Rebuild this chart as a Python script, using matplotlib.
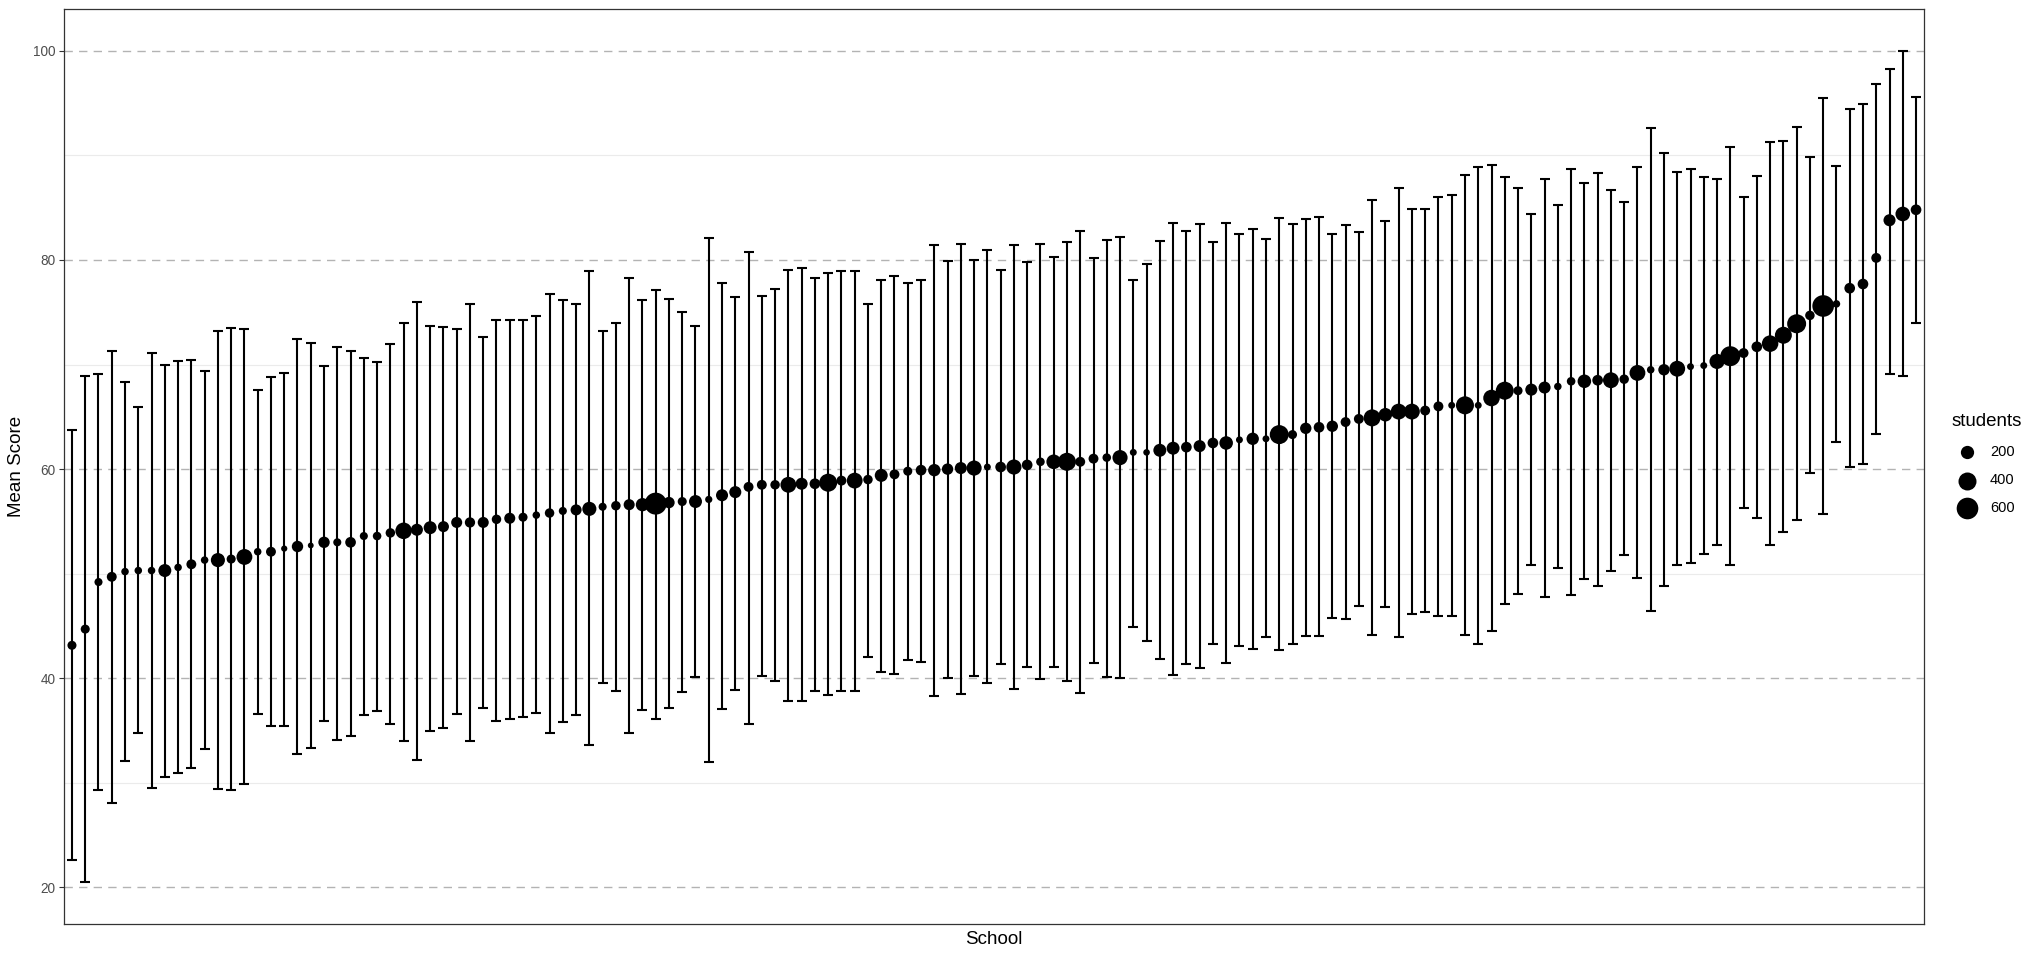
import numpy as np
import matplotlib
matplotlib.use("Agg")
import matplotlib.pyplot as plt
from matplotlib.lines import Line2D

plt.rcParams['font.family'] = ['Liberation Sans', 'DejaVu Sans']

mean_score = [
    43.15, 44.7, 49.2, 49.7, 50.2, 50.3, 50.3, 50.3, 50.6, 50.9, 51.3, 51.3, 51.4, 51.6, 52.1, 52.1, 52.4, 52.6, 52.7, 53.0, 53.0, 53.0, 53.6, 53.6,
    53.9, 54.1, 54.2, 54.4, 54.5, 54.9, 54.9, 54.9, 55.2, 55.3, 55.4, 55.6, 55.8, 56.0, 56.1, 56.2, 56.4, 56.5, 56.6, 56.6, 56.7, 56.8, 56.9,
    56.9, 57.1, 57.5, 57.8, 58.3, 58.5, 58.5, 58.5, 58.6, 58.6, 58.7, 58.9, 58.9, 59.0, 59.4, 59.5, 59.8, 59.9, 59.9, 60.0, 60.1, 60.1, 60.2, 60.2,
    60.2, 60.4, 60.7, 60.7, 60.7, 60.7, 61.0, 61.1, 61.1, 61.6, 61.6, 61.8, 62.0, 62.1, 62.2, 62.5, 62.5, 62.8, 62.9, 62.9, 63.3, 63.3, 63.9,
    64.0, 64.1, 64.5, 64.8, 64.9, 65.2, 65.5, 65.5, 65.6, 66.0, 66.1, 66.1, 66.1, 66.8, 67.5, 67.5, 67.6, 67.8, 67.9, 68.4, 68.4, 68.5, 68.5,
    68.6, 69.2, 69.5, 69.5, 69.6, 69.8, 69.9, 70.3, 70.8, 71.1, 71.7, 72.0, 72.8, 73.9, 74.7, 75.6, 75.8, 77.3, 77.7, 80.2, 83.8, 84.4, 84.8,
]

upper_ci = [
    63.7, 68.9, 69.1, 71.3, 68.3, 65.9, 71.1, 70.0, 70.3, 70.4, 69.4, 73.2, 73.5, 73.4, 67.6, 68.8, 69.2, 72.4, 72.1, 69.9, 71.7, 71.3, 70.6, 70.2,
    72.0, 74.0, 76.0, 73.7, 73.6, 73.4, 75.8, 72.6, 74.3, 74.3, 74.3, 74.6, 76.7, 76.2, 75.8, 78.9, 73.2, 74.0, 78.3, 76.2, 77.1, 76.3, 75.0,
    73.7, 82.1, 77.8, 76.5, 80.8, 76.6, 77.2, 79.0, 79.2, 78.3, 78.8, 78.9, 78.9, 75.8, 78.1, 78.5, 77.8, 78.1, 81.4, 79.9, 81.5, 80.0, 81.0, 79.0,
    81.4, 79.8, 81.5, 80.3, 81.7, 82.8, 80.2, 81.9, 82.2, 78.1, 79.6, 81.8, 83.5, 82.8, 83.4, 81.7, 83.5, 82.5, 83.0, 82.0, 84.0, 83.4, 83.9,
    84.1, 82.5, 83.3, 82.7, 85.7, 83.7, 86.9, 84.9, 84.9, 86.0, 86.2, 88.1, 88.9, 89.1, 87.9, 86.9, 84.4, 87.7, 85.3, 88.7, 87.4, 88.3, 86.7,
    85.5, 88.9, 92.6, 90.2, 88.4, 88.7, 87.9, 87.7, 90.8, 86.0, 88.0, 91.3, 91.4, 92.7, 89.8, 95.5, 89.0, 94.4, 94.9, 96.8, 98.3, 100.0, 95.6,
]

lower_ci = [
    22.6, 20.5, 29.3, 28.1, 32.1, 34.8, 29.5, 30.6, 30.9, 31.4, 33.2, 29.4, 29.3, 29.9, 36.6, 35.4, 35.4, 32.8, 33.3, 35.9, 34.1, 34.5, 36.5, 36.9,
    35.6, 34.0, 32.2, 35.0, 35.2, 36.6, 34.0, 37.2, 35.9, 36.1, 36.3, 36.7, 34.8, 35.8, 36.5, 33.6, 39.5, 38.8, 34.8, 37.0, 36.1, 37.2, 38.7,
    40.1, 32.0, 37.1, 38.9, 35.6, 40.2, 39.7, 37.8, 37.8, 38.8, 38.4, 38.8, 38.8, 42.0, 40.6, 40.4, 41.7, 41.6, 38.3, 40.0, 38.5, 40.2, 39.5, 41.4,
    39.0, 41.1, 39.9, 41.1, 39.7, 38.6, 41.5, 40.1, 40.0, 44.9, 43.6, 41.8, 40.3, 41.4, 41.0, 43.3, 41.5, 43.1, 42.8, 43.9, 42.7, 43.3, 44.0,
    44.0, 45.8, 45.7, 46.9, 44.1, 46.8, 43.9, 46.1, 46.3, 46.0, 46.0, 44.1, 43.3, 44.5, 47.1, 48.1, 50.8, 47.8, 50.5, 48.0, 49.5, 48.8, 50.3,
    51.8, 49.6, 46.4, 48.8, 50.8, 51.0, 51.9, 52.7, 50.8, 56.3, 55.3, 52.7, 54.0, 55.1, 59.6, 55.7, 62.6, 60.2, 60.5, 63.4, 69.1, 68.9, 74.0,
]

students = [
    80, 80, 60, 100, 50, 50, 50, 190, 50, 100, 50, 230, 80, 300, 50, 100, 30, 140, 25, 140, 60, 120, 60, 70,
    90, 330, 160, 190, 130, 130, 110, 130, 90, 130, 80, 50, 90, 60, 130, 230, 60, 90, 130, 200, 620, 140, 80,
    190, 45, 160, 160, 100, 100, 90, 300, 160, 120, 400, 100, 300, 90, 190, 100, 80, 120, 170, 140, 160, 270, 40, 120,
    270, 120, 70, 250, 400, 100, 100, 70, 270, 40, 35, 190, 190, 120, 160, 120, 210, 40, 170, 40, 450, 80, 140,
    120, 140, 100, 100, 350, 210, 300, 300, 100, 100, 40, 400, 40, 330, 400, 80, 160, 160, 50, 70, 210, 120, 300,
    90, 300, 50, 140, 300, 40, 40, 270, 500, 100, 120, 330, 350, 450, 90, 600, 50, 120, 120, 100, 160, 250, 120,
]

legend_breaks = [200, 400, 600]

W, H, DPI = 2040, 960, 100
fig = plt.figure(figsize=(W / DPI, H / DPI), dpi=DPI)
ax = fig.add_axes([64 / W, 1 - 924 / H, (1924 - 64) / W, (924 - 9) / H])


def marker_area(n):
    d_px = 0.81 * np.sqrt(np.asarray(n, dtype=float)) + 1.8
    d_pt = d_px * 72.0 / DPI
    return d_pt ** 2


x = np.arange(1, len(mean_score) + 1)
m = np.array(mean_score)
up = np.array(upper_ci)
lo = np.array(lower_ci)

# grid
for v in [30, 50, 70, 90]:
    ax.axhline(v, color='#EBEBEB', lw=0.8, zorder=0)
for v in [20, 40, 60, 80, 100]:
    ax.axhline(v, color='#B3B3B3', lw=1.0, ls=(0, (6, 4.5)), zorder=0)

ax.errorbar(x, m, yerr=[m - lo, up - m], fmt='none', ecolor='black',
            elinewidth=1.5, capsize=3.7, capthick=1.5, zorder=2)
ax.scatter(x, m, s=marker_area(students), color='black', linewidths=0, zorder=3)

ax.set_xlim(0.4, len(x) + 0.6)
ax.set_ylim(16.5, 104.0)
ax.set_xticks([])
ax.set_yticks([20, 40, 60, 80, 100])
ax.tick_params(axis='y', length=3.4, width=0.8, color='#333333', pad=2.6,
               labelsize=9.8, labelcolor='#4D4D4D')
for sp in ax.spines.values():
    sp.set_color('#333333')
    sp.set_linewidth(0.9)

fig.text(17 / W, 1 - 466.5 / H, 'Mean Score', rotation=90, ha='center', va='center',
         fontsize=13.5, color='black')
fig.text(994 / W, 1 - 939 / H, 'School', ha='center', va='center',
         fontsize=13.5, color='black')

# legend
fig.text(1952 / W, 1 - 421 / H, 'students', ha='left', va='center', fontsize=13.5, color='black')
leg_y = [451.5, 480.5, 507.5]
for b, yy in zip(legend_breaks, leg_y):
    fig.lines.append(Line2D([1967 / W], [1 - yy / H], transform=fig.transFigure, marker='o',
                            markersize=np.sqrt(marker_area(b)), color='black', markeredgewidth=0, ls='none'))
    fig.text(1990 / W, 1 - yy / H, str(b), ha='left', va='center', fontsize=10.5, color='black')

fig.savefig('out.png', dpi=DPI)
